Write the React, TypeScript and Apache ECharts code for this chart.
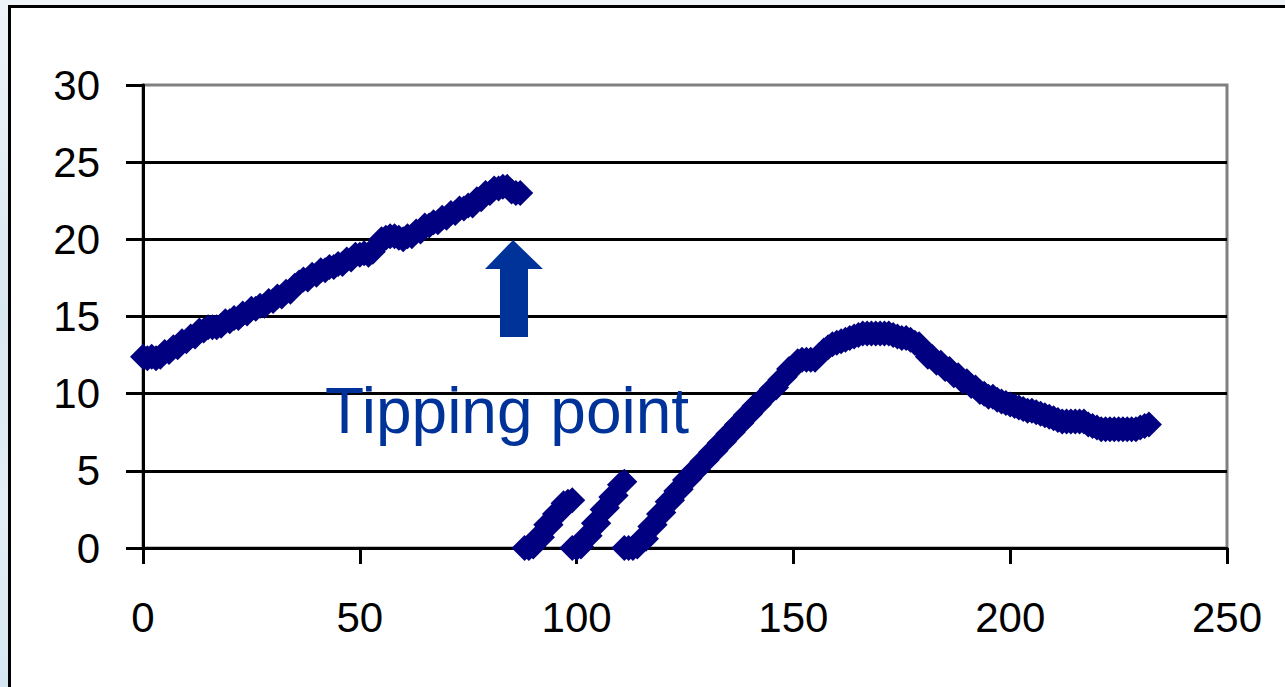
import React, { useEffect, useRef } from "react";
import * as echarts from "echarts";

// Segment 1: steady rise up to the tipping point
const seg1X = [0, 1, 2, 3, 4, 5, 6, 7, 8, 9, 10, 11, 12, 13, 14, 15, 16, 17, 18, 19, 20, 21, 22, 23, 24, 25, 26, 27, 28, 29, 30, 31, 32, 33, 34, 35, 36, 37, 38, 39, 40, 41, 42, 43, 44, 45, 46, 47, 48, 49, 50, 51, 52, 53, 54, 55, 56, 57, 58, 59, 60, 61, 62, 63, 64, 65, 66, 67, 68, 69, 70, 71, 72, 73, 74, 75, 76, 77, 78, 79, 80, 81, 82, 83, 84, 85, 86, 87];
const seg1Y = [12.4, 12.3, 12.4, 12.3, 12.4, 12.7, 12.7, 13.0, 13.0, 13.4, 13.4, 13.7, 13.7, 14.1, 14.1, 14.3, 14.3, 14.3, 14.4, 14.7, 14.7, 14.9, 14.9, 15.2, 15.2, 15.5, 15.5, 15.7, 15.7, 16.0, 16.0, 16.3, 16.3, 16.6, 16.6, 17.0, 17.2, 17.4, 17.4, 17.7, 17.7, 18.0, 18.0, 18.2, 18.2, 18.4, 18.4, 18.7, 18.7, 19.0, 19.0, 19.1, 19.0, 19.2, 19.6, 20.0, 20.1, 20.2, 20.2, 20.1, 20.0, 20.2, 20.2, 20.5, 20.5, 20.9, 20.9, 21.1, 21.1, 21.4, 21.4, 21.7, 21.7, 22.0, 22.0, 22.2, 22.2, 22.6, 22.6, 23.0, 23.0, 23.3, 23.3, 23.4, 23.4, 23.1, 23.0, 23.0];

// Segment 2: first collapse and regrowth
const seg2X = [88, 89, 90, 91, 92, 93, 94, 95, 96, 97, 98, 99];
const seg2Y = [0, 0, 0.1, 0.7, 0.7, 1.5, 1.5, 2.2, 2.3, 2.9, 3.0, 3.1];

// Segment 3: second collapse and regrowth
const seg3X = [99, 100, 101, 102, 103, 104, 105, 106, 107, 108, 109, 110, 111];
const seg3Y = [0, 0, 0.1, 0.7, 0.8, 1.6, 1.6, 2.5, 2.6, 3.3, 3.4, 4.1, 4.3];

// Segment 4: recovery, peak and decline
const seg4X = [111, 112, 113, 114, 115, 116, 117, 118, 119, 120, 121, 122, 123, 124, 125, 126, 127, 128, 129, 130, 131, 132, 133, 134, 135, 136, 137, 138, 139, 140, 141, 142, 143, 144, 145, 146, 147, 148, 149, 150, 151, 152, 153, 154, 155, 156, 157, 158, 159, 160, 161, 162, 163, 164, 165, 166, 167, 168, 169, 170, 171, 172, 173, 174, 175, 176, 177, 178, 179, 180, 181, 182, 183, 184, 185, 186, 187, 188, 189, 190, 191, 192, 193, 194, 195, 196, 197, 198, 199, 200, 201, 202, 203, 204, 205, 206, 207, 208, 209, 210, 211, 212, 213, 214, 215, 216, 217, 218, 219, 220, 221, 222, 223, 224, 225, 226, 227, 228, 229, 230, 231, 232];
const seg4Y = [
  0, 0, 0, 0.1, 0.6, 0.6, 1.4, 1.5, 2.2, 2.3, 3.0, 3.1, 3.7, 3.8, 4.4, 4.5, 5.0, 5.1, 5.6, 5.7, 6.2, 6.3, 6.8, 6.9, 7.4, 7.5, 8.0, 8.1, 8.6, 8.7, 9.2, 9.3, 9.7, 9.9, 10.3, 10.4, 10.9, 11.1, 11.6, 11.7, 12.1,
  12.2, 12.2, 12.2, 12.2, 12.5, 12.8, 13.0, 13.2, 13.3, 13.4, 13.5, 13.6, 13.7, 13.8, 13.9, 13.9, 13.9, 13.9, 13.9, 13.9, 13.9, 13.8, 13.7, 13.6, 13.6, 13.5, 13.3,
  13.2, 12.8, 12.4, 12.4, 12.0, 12.0, 11.6, 11.6, 11.2, 11.2, 10.8, 10.8, 10.5, 10.4, 10.1, 10.0, 9.8, 9.8, 9.6, 9.5, 9.4, 9.3, 9.2, 9.1, 9.0, 8.9, 8.9, 8.8, 8.7, 8.6, 8.5, 8.4, 8.3, 8.2,
  8.2, 8.2, 8.2, 8.2, 8.2, 8.0, 7.9, 7.8, 7.7, 7.7, 7.7, 7.7, 7.7, 7.7, 7.7, 7.7, 7.7, 7.8, 7.9, 8.0,
];

const xTicks = { min: 0, max: 250, interval: 50 };
const yTicks = { min: 0, max: 30, interval: 5 };

const annotationText = "Tipping point";

function pairs(xs: number[], ys: number[]) {
  return xs.map((x, i) => [x, ys[i]]);
}

export default function App() {
  const ref = useRef<HTMLDivElement>(null);

  useEffect(() => {
    if (!ref.current) return;
    const chart = echarts.init(ref.current, undefined, { renderer: "svg" });
    const font = "Arial, 'Liberation Sans', sans-serif";
    const data = [
      ...pairs(seg1X, seg1Y),
      ...pairs(seg2X, seg2Y),
      ...pairs(seg3X, seg3Y),
      ...pairs(seg4X, seg4Y),
    ];
    chart.setOption({
      animation: false,
      backgroundColor: "transparent",
      grid: {
        left: 143,
        right: 58,
        top: 85,
        bottom: 139,
        show: true,
        borderColor: "#808080",
        borderWidth: 3,
        backgroundColor: "transparent",
      },
      xAxis: {
        type: "value",
        min: xTicks.min,
        max: xTicks.max,
        interval: xTicks.interval,
        axisLine: { show: true, lineStyle: { color: "#000", width: 3 } },
        axisTick: { show: true, length: 16, lineStyle: { color: "#000", width: 3 } },
        axisLabel: { color: "#000", fontSize: 42, fontFamily: font, margin: 48 },
        splitLine: { show: false },
      },
      yAxis: {
        type: "value",
        min: yTicks.min,
        max: yTicks.max,
        interval: yTicks.interval,
        axisLine: { show: true, onZero: false, lineStyle: { color: "#000", width: 3 } },
        axisTick: { show: true, length: 17, lineStyle: { color: "#000", width: 3 } },
        axisLabel: { color: "#000", fontSize: 42, fontFamily: font, margin: 43 },
        splitLine: {
          show: true,
          showMaxLine: false,
          lineStyle: { color: "#000", width: 3 },
        },
      },
      series: [
        {
          type: "scatter",
          data,
          symbol: "diamond",
          symbolSize: 26,
          itemStyle: { color: "#000080", opacity: 1 },
          z: 5,
        },
      ],
      graphic: [
        {
          type: "polygon",
          z: 10,
          shape: {
            points: [
              [513, 240],
              [543, 269],
              [528, 269],
              [528, 337],
              [500, 337],
              [500, 269],
              [485, 269],
            ],
          },
          style: { fill: "#003399" },
        },
        {
          type: "text",
          z: 10,
          x: 325,
          y: 443,
          style: {
            text: annotationText,
            fill: "#003399",
            font: `64px ${font}`,
            verticalAlign: "bottom",
          },
        },
      ],
    });
    return () => chart.dispose();
  }, []);

  return (
    <div
      style={{
        position: "fixed",
        left: 0,
        top: 0,
        width: 1285,
        height: 687,
        overflow: "hidden",
        background:
          "linear-gradient(to bottom, #eef3f8 0%, #d9e7f1 45%, #e3edf5 75%, #d6e6f1 100%)",
      }}
    >
      <div
        style={{
          position: "absolute",
          left: 8,
          top: 5,
          width: 1320,
          height: 720,
          background: "#fff",
          border: "3.5px solid #000",
          boxSizing: "border-box",
        }}
      />
      <div ref={ref} style={{ position: "absolute", left: 0, top: 0, width: 1285, height: 687 }} />
    </div>
  );
}
